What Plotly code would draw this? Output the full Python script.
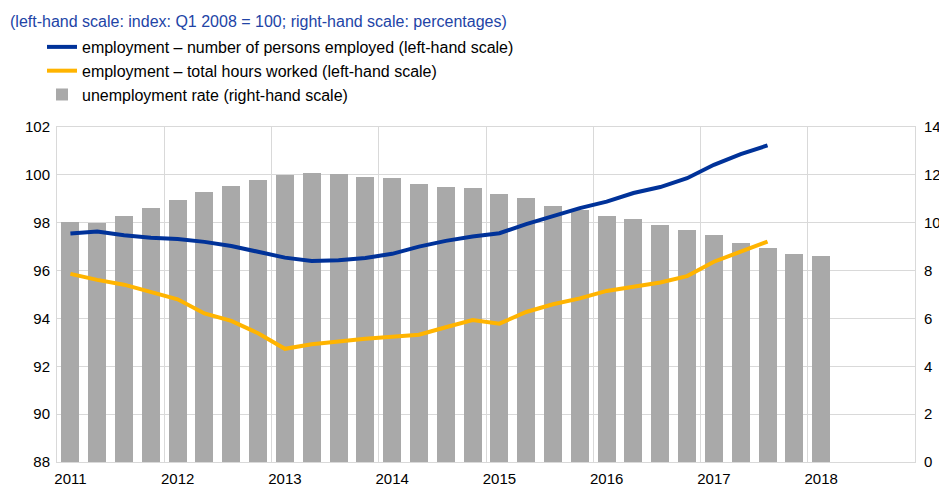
import plotly.graph_objects as go

# Quarters 2011Q1 .. 2018Q4 (axis spans all of them)
years = ["2011", "2012", "2013", "2014", "2015", "2016", "2017", "2018"]
quarters = [f"{y}Q{q}" for y in years for q in range(1, 5)]

# unemployment rate (right-hand scale), 2011Q1 .. 2018Q1
unemployment = [10.02, 10.0, 10.26, 10.6, 10.93, 11.29, 11.53, 11.79, 11.99, 12.09,
                12.03, 11.92, 11.86, 11.63, 11.51, 11.44, 11.21, 11.03, 10.69, 10.53,
                10.29, 10.16, 9.92, 9.71, 9.48, 9.14, 8.96, 8.71, 8.62]

# employment - number of persons employed, 2011Q1 .. 2017Q3
persons = [97.55, 97.63, 97.48, 97.37, 97.32, 97.2, 97.03, 96.79, 96.54, 96.4,
           96.43, 96.53, 96.7, 97.0, 97.24, 97.42, 97.56, 97.94, 98.29, 98.61,
           98.88, 99.24, 99.49, 99.86, 100.42, 100.87, 101.23]

# employment - total hours worked, 2011Q1 .. 2017Q3
hours = [95.86, 95.61, 95.41, 95.12, 94.8, 94.21, 93.9, 93.38, 92.73, 92.92,
         93.05, 93.15, 93.23, 93.32, 93.63, 93.93, 93.78, 94.27, 94.59, 94.84,
         95.15, 95.33, 95.5, 95.77, 96.37, 96.79, 97.21]

title_text = "(left-hand scale: index: Q1 2008 = 100; right-hand scale: percentages)"
names = ["employment \u2013 number of persons employed (left-hand scale)",
         "employment \u2013 total hours worked (left-hand scale)",
         "unemployment rate (right-hand scale)"]

pos = list(range(len(quarters)))
GRID = "#d9d9d9"
FONT = "Liberation Sans, Arial, sans-serif"

fig = go.Figure()
fig.add_trace(go.Bar(
    x=pos[:len(unemployment)], y=unemployment, name=names[2],
    marker=dict(color="#a9a9a9", line=dict(width=0)), width=0.67,
    yaxis="y", legendgroup="c", legendrank=3,
))
fig.add_trace(go.Scatter(
    x=pos[:len(persons)], y=persons, name=names[0], mode="lines",
    line=dict(color="#003299", width=4), yaxis="y2", legendgroup="a", legendrank=1,
))
fig.add_trace(go.Scatter(
    x=pos[:len(hours)], y=hours, name=names[1], mode="lines",
    line=dict(color="#ffb400", width=4), yaxis="y2", legendgroup="b", legendrank=2,
))

# the page adds an 8px body margin, so the figure is drawn 8px smaller
fig.update_layout(
    width=939, height=479,
    margin=dict(l=49, r=32, t=119, b=25, autoexpand=False),
    paper_bgcolor="white", plot_bgcolor="white",
    font=dict(family=FONT, size=15, color="#000000"),
    bargap=0,
    showlegend=True,
    legend=dict(
        x=-0.0175, y=1.2896, xanchor="left", yanchor="top",
        font=dict(size=16, color="#000000"),
        traceorder="grouped", tracegroupgap=0,
        bgcolor="rgba(0,0,0,0)",
    ),
    annotations=[dict(
        text=title_text, xref="paper", yref="paper", x=-0.0571, y=1.316,
        xanchor="left", yanchor="middle", showarrow=False,
        font=dict(family=FONT, size=16, color="#2244a6"),
    )],
    xaxis=dict(
        range=[-0.5, 31.5],
        tickmode="array",
        tickvals=[pos[quarters.index(y + "Q1")] for y in years],
        ticktext=years,
        showgrid=False, zeroline=False,
        showline=True, linecolor=GRID, linewidth=1, mirror=True,
        ticks="", tickfont=dict(size=15), automargin=False, ticklabelstandoff=3,
        minor=dict(tickmode="linear", tick0=-0.5, dtick=4, showgrid=True,
                   gridcolor=GRID, gridwidth=1, ticks=""),
    ),
    yaxis=dict(
        range=[0, 14], dtick=2, side="right",
        showgrid=True, gridcolor=GRID, gridwidth=1, zeroline=False,
        showline=True, linecolor=GRID, mirror=True, automargin=False,
        ticks="", ticklabelstandoff=5, tickfont=dict(size=15),
    ),
    yaxis2=dict(
        range=[88, 102], dtick=2, side="left", overlaying="y",
        showgrid=False, zeroline=False, ticks="", ticklabelstandoff=6,
        automargin=False, tickfont=dict(size=15),
    ),
)

fig.write_html("out.html")
